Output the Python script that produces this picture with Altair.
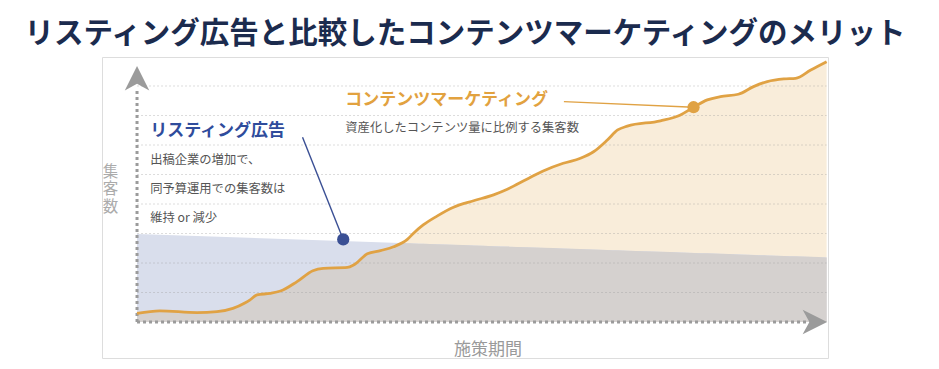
import altair as alt
import pandas as pd
import numpy as np

FONT = "Noto Sans CJK JP"

title_text = "リスティング広告と比較したコンテンツマーケティングのメリット"

# Content marketing curve (x: period 0-100, y: visitors, grid step 10)
cm_x = [0, 3.3, 8.7, 11.6, 13.9, 15.7, 16.4, 17.4, 19.3, 20.8,
        23.2, 25.5, 27.0, 30.5, 31.4, 33.4, 35.3, 37.2, 39.2, 40.1,
        41.5, 43.5, 45.9, 48.8, 51.7, 53.7, 56.6, 58.9, 61.8, 64.3,
        66.2, 68.2, 69.7, 71.1, 75.9, 78.8, 80.7, 82.7, 84.6, 87.2,
        89.4, 91.4, 93.8, 95.5, 97.7, 100]
cm_y = [2.9, 3.8, 3.2, 3.5, 4.6, 6.5, 7.5, 9.2, 9.7, 10.5,
        13.7, 17.4, 18.2, 18.5, 19.3, 23.1, 24.2, 25.5, 28.0, 30.1,
        32.9, 35.9, 38.9, 41.1, 43.1, 45.0, 48.5, 51.2, 53.8, 55.5,
        57.7, 61.7, 65.1, 66.4, 68.2, 70.2, 72.8, 75.3, 76.4, 77.2,
        79.8, 81.5, 82.4, 82.6, 85.4, 88.2]

# Listing ads (slowly decreasing)
la_x = [0, 100]
la_y = [29.8, 21.9]

grid_y = [10, 20, 30, 40, 50, 60, 70, 80]

# markers
cm_marker = {"x": 80.7, "y": 72.8}
la_marker = {"x": 29.9, "y": 28.0}

# labels
cm_label = "コンテンツマーケティング"
cm_sub = "資産化したコンテンツ量に比例する集客数"
la_label = "リスティング広告"
la_lines = ["出稿企業の増加で、", "同予算運用での集客数は", "維持 or 減少"]
y_title = "集\n客\n数"
x_title = "施策期間"

# ---------- derived tables ----------
cm_df = pd.DataFrame({"x": cm_x, "y": cm_y})
la_df = pd.DataFrame({"x": la_x, "y": la_y})

bx = np.array(cm_x, dtype=float)
blue_at = np.interp(bx, la_x, la_y)
oy = np.array(cm_y, dtype=float)
gx, gy = [], []
for i in range(len(bx)):
    if i > 0:
        d0 = oy[i - 1] - blue_at[i - 1]
        d1 = oy[i] - blue_at[i]
        if d0 * d1 < 0:
            t = d0 / (d0 - d1)
            cx = bx[i - 1] + t * (bx[i] - bx[i - 1])
            gx.append(cx)
            gy.append(float(np.interp(cx, la_x, la_y)))
    gx.append(bx[i])
    gy.append(min(oy[i], blue_at[i]))
gray_df = pd.DataFrame({"x": gx, "y": gy})

grid_df = pd.DataFrame({"y": grid_y, "x": [0] * len(grid_y), "x2": [100] * len(grid_y)})

xs = alt.Scale(domain=[-5.08, 100.2], nice=False, zero=False)
ys = alt.Scale(domain=[-12.2, 89.83], nice=False, zero=False)


def X(f="x"):
    return alt.X(f"{f}:Q", scale=xs, axis=None)


def Y(f="y"):
    return alt.Y(f"{f}:Q", scale=ys, axis=None)


cream = alt.Chart(cm_df).mark_area(color="#f9edda", interpolate="monotone").encode(
    x=X(), y=Y(), y2=alt.datum(0))
blue = alt.Chart(la_df).mark_area(color="#d9deec").encode(x=X(), y=Y(), y2=alt.datum(0))
gray = alt.Chart(gray_df).mark_area(color="#d5d1cf", interpolate="monotone").encode(
    x=X(), y=Y(), y2=alt.datum(0))

grid = alt.Chart(grid_df).mark_rule(color="#9a9a9a", opacity=0.35, strokeDash=[2, 2], strokeWidth=1).encode(
    x=X(), x2="x2:Q", y=Y())

axes_df = pd.DataFrame({"x": [0, 0], "x2": [0, 97.5], "y": [0, 0], "y2": [79, 0]})
axes = alt.Chart(axes_df).mark_rule(color="#9b9b9b", strokeWidth=3, strokeDash=[3, 3]).encode(
    x=X(), x2="x2:Q", y=Y(), y2="y2:Q")

arrow_r = alt.Chart(pd.DataFrame({"x": [98.3], "y": [0]})).mark_point(
    shape="M-1,-1L1,0L-1,1L-0.45,0Z", size=600, filled=True, color="#9b9b9b", opacity=1).encode(x=X(), y=Y())
arrow_u = alt.Chart(pd.DataFrame({"x": [0], "y": [82.6]})).mark_point(
    shape="M-1,1L0,-1L1,1L0,0.45Z", size=600, filled=True, color="#9b9b9b", opacity=1).encode(x=X(), y=Y())

cm_line = alt.Chart(cm_df).mark_line(color="#e0a244", strokeWidth=2.8, interpolate="monotone").encode(
    x=X(), y=Y())

leaders = alt.Chart(pd.DataFrame({
    "x": [61.9, 24.0], "x2": [cm_marker["x"], la_marker["x"]],
    "y": [74.7, 62.6], "y2": [cm_marker["y"], la_marker["y"]],
    "c": ["cm", "la"]})).mark_rule(strokeWidth=1.4).encode(
    x=X(), x2="x2:Q", y=Y(), y2="y2:Q",
    color=alt.Color("c:N", scale=alt.Scale(domain=["cm", "la"], range=["#e0a244", "#3a4f94"]), legend=None))

markers = alt.Chart(pd.DataFrame({
    "x": [cm_marker["x"], la_marker["x"]], "y": [cm_marker["y"], la_marker["y"]],
    "c": ["cm", "la"]})).mark_circle(size=150, opacity=1).encode(
    x=X(), y=Y(),
    color=alt.Color("c:N", scale=alt.Scale(domain=["cm", "la"], range=["#e1a444", "#3553a5"]), legend=None))

t_cm = alt.Chart(pd.DataFrame({"x": [30.2], "y": [75.1], "t": [cm_label]})).mark_text(
    font=FONT, fontSize=17, fontWeight="bold", color="#e2a23f", align="left", baseline="middle").encode(
    x=X(), y=Y(), text="t:N")
t_cm_sub = alt.Chart(pd.DataFrame({"x": [30.2], "y": [65.8], "t": [cm_sub]})).mark_text(
    font=FONT, fontSize=12.3, color="#555555", align="left", baseline="middle").encode(
    x=X(), y=Y(), text="t:N")
t_la = alt.Chart(pd.DataFrame({"x": [1.9], "y": [64.8], "t": [la_label]})).mark_text(
    font=FONT, fontSize=17, fontWeight="bold", color="#2f4c9c", align="left", baseline="middle").encode(
    x=X(), y=Y(), text="t:N")
t_la_lines = alt.Chart(pd.DataFrame({"x": [1.9, 1.9, 1.9], "y": [54.9, 45.1, 35.3], "t": la_lines})).mark_text(
    font=FONT, fontSize=12.3, color="#555555", align="left", baseline="middle").encode(
    x=X(), y=Y(), text="t:N")
t_ytitle = alt.Chart(pd.DataFrame({"x": [-3.85], "y": [50.85], "t": [y_title]})).mark_text(
    font=FONT, fontSize=15.5, color="#ababab", align="center", baseline="middle",
    lineBreak="\n", lineHeight=17.5).encode(x=X(), y=Y(), text="t:N")
t_xtitle = alt.Chart(pd.DataFrame({"x": [50.9], "y": [-9.5], "t": [x_title]})).mark_text(
    font=FONT, fontSize=17, color="#9a9a9a", align="center", baseline="middle").encode(
    x=X(), y=Y(), text="t:N")

chart = alt.layer(
    cream, blue, gray, grid, axes, arrow_r, arrow_u, cm_line, leaders, markers,
    t_cm, t_cm_sub, t_la, t_la_lines, t_ytitle, t_xtitle
).properties(
    width=726, height=301,
    padding={"left": 94, "top": 49, "right": 103, "bottom": 3},
    autosize="none",
    title=alt.TitleParams(title_text, font=FONT, fontSize=29.5, fontWeight="bold", color="#1b2b4e",
                          anchor="middle", offset=7),
).configure_view(
    fill="white", stroke="#d6d6d6", strokeWidth=1.5
).configure(background="white")

chart.save("out.html", embed_options={"renderer": "svg", "actions": False})
